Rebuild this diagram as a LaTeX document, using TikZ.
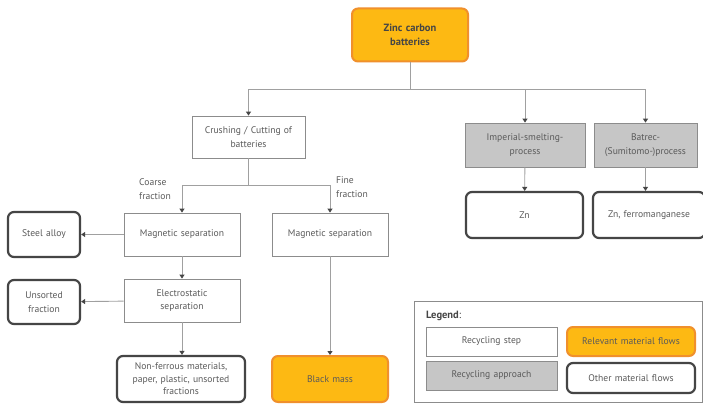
\documentclass[tikz,border=0pt]{standalone}
\usepackage{fontspec}
\setmainfont{PT Sans}
\usetikzlibrary{arrows.meta}
\definecolor{flowfill}{HTML}{FDB913}
\definecolor{flowedge}{HTML}{F0902C}
\definecolor{stepedge}{HTML}{8C8C8C}
\definecolor{approachfill}{HTML}{C6C6C6}
\definecolor{otheredge}{HTML}{454545}
\definecolor{linkcol}{HTML}{A0A0A0}
\definecolor{txt}{HTML}{5A5A5A}
\tikzset{
  base/.style={align=center, text=txt, font=\fontsize{9.6}{13.5}\selectfont, inner sep=2pt},
  stepbox/.style={base, draw=stepedge, line width=0.8pt, fill=white},
  approachbox/.style={base, draw=stepedge, line width=0.8pt, fill=approachfill},
  relevantbox/.style={base, draw=flowedge, line width=2pt, fill=flowfill, rounded corners=6pt},
  otherbox/.style={base, draw=otheredge, line width=2.2pt, fill=white, rounded corners=6pt},
  link/.style={draw=linkcol, line width=0.9pt},
  arr/.style={link, -{Triangle[width=5pt,length=4pt,color=otheredge]}},
  sz/.style 2 args={minimum width=#1pt, minimum height=#2pt, text width=#1pt-8pt}
}
\begin{document}
\begin{tikzpicture}[x=1pt, y=-1pt]
\useasboundingbox (0,0) rectangle (703,406);
\fill[white] (0,0) rectangle (703,406);

% main chain
\node[relevantbox, sz={116}{53}, font=\fontsize{10.5}{14}\selectfont\bfseries, text=otheredge] (top) at (410,35) {Zinc carbon\\batteries};
\node[stepbox, sz={113}{42}] (crush) at (248.5,137) {Crushing / Cutting of\\batteries};
\node[approachbox, sz={120}{44}] (imp) at (525,145) {Imperial-smelting-\\process};
\node[approachbox, sz={103}{44}] (bat) at (645.5,145) {Batrec-\\(Sumitomo-)process};
\node[otherbox, sz={117}{46}] (zn) at (524.5,215) {Zn};
\node[otherbox, sz={112}{46}] (znfe) at (649,215) {Zn, ferromanganese};

% coarse / fine branches
\node[stepbox, sz={116}{43}] (magl) at (182,234.5) {Magnetic separation};
\node[stepbox, sz={116}{43}] (magr) at (330,234.5) {Magnetic separation};
\node[otherbox, sz={72}{45}] (steel) at (44,234.5) {Steel alloy};
\node[stepbox, sz={116}{43}] (elec) at (182,300.5) {Electrostatic\\separation};
\node[otherbox, sz={72}{44}] (unsort) at (44,302) {Unsorted\\fraction};
\node[otherbox, sz={122}{46}, text width=124pt, font=\fontsize{9.6}{12.5}\selectfont] (nonfe) at (181,379) {Non-ferrous materials,\\paper, plastic, unsorted\\fractions};
\node[relevantbox, sz={116}{46}] (black) at (330,379) {Black mass};

\node[base, align=left, anchor=west] (coarse) at (137,189) {Coarse\\fraction};
\node[base, align=left, anchor=west] (fine) at (334,187) {Fine\\fraction};

% connectors
\coordinate (j1) at (410,89);
\coordinate (j2) at (248.5,185);
\draw[link] (top) -- (j1);
\draw[arr] (j1) -| (crush);
\draw[arr] (j1) -| (imp);
\draw[arr] (j1) -| (bat);
\draw[arr] (imp) -- (zn);
\draw[arr] (bat.south) -- (bat.south |- znfe.north);
\draw[link] (crush) -- (j2);
\draw[arr] (j2) -| (magl);
\draw[arr] (j2) -| (magr);
\draw[arr] (magl) -- (steel);
\draw[arr] (magl) -- (elec);
\draw[arr] (elec) -- (unsort);
\draw[arr] (elec) -- (nonfe.north -| elec.south);
\draw[arr] (magr) -- (black);

% legend
\node[draw=stepedge, line width=0.8pt, minimum width=288pt, minimum height=101pt, inner sep=0pt] (legend) at (558.5,351.5) {};
\node[base, anchor=west, font=\fontsize{10.5}{12}\selectfont, text=otheredge] (legtitle) at (424,316) {\textbf{Legend}:};
\node[stepbox, sz={131}{29}] (lstep) at (491.5,341.5) {Recycling step};
\node[approachbox, sz={131}{29}] (lappr) at (491.5,375.5) {Recycling approach};
\node[relevantbox, sz={128}{29}] (lrel) at (631,341.5) {Relevant material flows};
\node[otherbox, sz={128}{30}] (loth) at (631,378) {Other material flows};
\end{tikzpicture}
\end{document}
